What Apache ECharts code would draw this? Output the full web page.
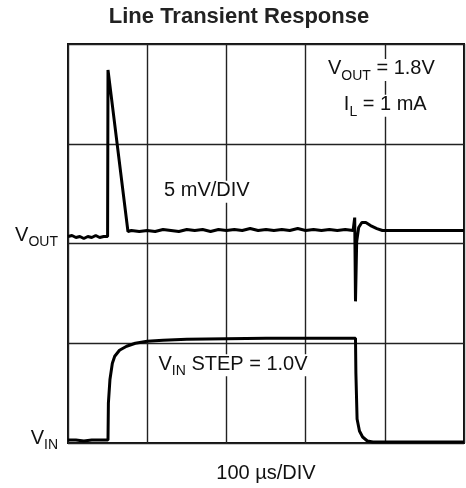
<!DOCTYPE html>
<html>
<head>
<meta charset="utf-8">
<script src="https://cdn.jsdelivr.net/npm/echarts@6/dist/echarts.min.js"></script>
<style>html,body{margin:0;padding:0;background:#fff}#c{width:466px;height:488px}</style>
</head>
<body>
<div id="c"></div>
<script>
// Units: horizontal = divisions (100 µs/DIV), vertical = divisions
var titleText = 'Line Transient Response';
var xAxisName = '100 µs/DIV';
var yTickValues = [2.07, 0.04];
var yTickLabels = ['{v|V}{s|OUT}', '{v|V}{s|IN}'];

var voutTrace = [
  [0,2.07],[0.05,2.08],[0.1,2.06],[0.15,2.07],[0.2,2.05],[0.25,2.07],[0.3,2.06],[0.35,2.08],[0.4,2.06],[0.45,2.07],[0.5,2.07],
  [0.505,3.74],[0.525,3.73],[0.757,2.12],[0.8,2.13],[0.9,2.12],[1.0,2.13],[1.1,2.12],[1.2,2.14],[1.3,2.13],[1.4,2.12],
  [1.5,2.14],[1.6,2.13],[1.7,2.14],[1.8,2.12],[1.9,2.14],[2.0,2.13],[2.1,2.14],[2.2,2.13],[2.3,2.15],[2.4,2.13],
  [2.5,2.14],[2.6,2.13],[2.7,2.14],[2.8,2.13],[2.9,2.15],[3.0,2.13],[3.1,2.14],[3.2,2.13],[3.3,2.14],[3.4,2.13],
  [3.5,2.14],[3.6,2.13],[3.62,2.26],[3.63,1.42],[3.645,2.02],[3.67,2.16],[3.71,2.21],[3.76,2.21],[3.82,2.18],
  [3.9,2.15],[3.97,2.13],[4.0,2.13],[5,2.13]
];
var vinTrace = [
  [0,0.03],[0.1,0.03],[0.2,0.02],[0.3,0.03],[0.4,0.03],[0.505,0.03],[0.51,0.4],[0.53,0.64],[0.56,0.8],[0.59,0.87],
  [0.65,0.93],[0.74,0.97],[0.85,1.0],[1.0,1.02],[1.2,1.03],[1.5,1.04],[2.0,1.045],[2.5,1.05],[3.0,1.05],[3.5,1.05],
  [3.63,1.05],[3.635,0.7],[3.65,0.24],[3.68,0.12],[3.72,0.06],[3.78,0.02],[3.85,0.01],[5,0.01]
];
var notes = [
  {x:1.2, y:2.52, text:'{v|5 mV/DIV}'},
  {x:1.13, y:0.78, text:'{v|V}{s|IN}{v| STEP = 1.0V}'},
  {x:3.27, y:3.74, text:'{v|V}{s|OUT}{v| = 1.8V}'},
  {x:3.47, y:3.38, text:'{v|I}{s|L}{v| = 1 mA}'}
];

var FONT = '"Liberation Sans", Arial, Helvetica, sans-serif';
var rich = {
  v: {fontSize: 20, fontFamily: FONT, color: '#111', lineHeight: 22, verticalAlign: 'top'},
  s: {fontSize: 14, fontFamily: FONT, color: '#111', lineHeight: 14, verticalAlign: 'top', padding: [10, 0, 0, 0]}
};

var chart = echarts.init(document.getElementById('c'));
var option = {
  animation: false,
  backgroundColor: '#fff',
  grid: {left: 68, right: 2, top: 44, bottom: 44, show: true, borderColor: '#111', borderWidth: 2},
  xAxis: {
    type: 'value', min: 0, max: 5, interval: 1,
    axisLine: {show: false}, axisTick: {show: false}, axisLabel: {show: false},
    splitLine: {show: true, lineStyle: {color: '#222', width: 1.4}},
    name: xAxisName, nameLocation: 'middle', nameGap: 20,
    nameTextStyle: {fontSize: 20, fontFamily: FONT, color: '#111'}
  },
  yAxis: {
    type: 'value', min: 0, max: 4, interval: 1,
    axisLine: {show: false}, axisTick: {show: false},
    axisLabel: {
      show: true, customValues: yTickValues, margin: 10,
      formatter: function (v) { var i = yTickValues.indexOf(v); return i >= 0 ? yTickLabels[i] : ''; },
      rich: rich
    },
    splitLine: {show: true, lineStyle: {color: '#222', width: 1.4}}
  },
  series: [
    {type: 'line', data: voutTrace, showSymbol: false, lineStyle: {color: '#000', width: 3}, z: 5},
    {type: 'line', data: vinTrace, showSymbol: false, lineStyle: {color: '#000', width: 3}, z: 5}
  ]
};
chart.setOption(option);

var g = [{
  type: 'text', x: 239, y: 17,
  style: {text: titleText, font: 'bold 22px ' + FONT, fill: '#222', align: 'center', verticalAlign: 'middle'}
}];
notes.forEach(function (n) {
  var p = chart.convertToPixel({gridIndex: 0}, [n.x, n.y]);
  g.push({
    type: 'text', x: p[0], y: p[1], z: 10,
    style: {text: n.text, rich: rich, font: '20px ' + FONT, fill: '#111', verticalAlign: 'middle',
            backgroundColor: '#fff', padding: [0, 1, 0, 1]}
  });
});
chart.setOption({graphic: g});
</script>
</body>
</html>
